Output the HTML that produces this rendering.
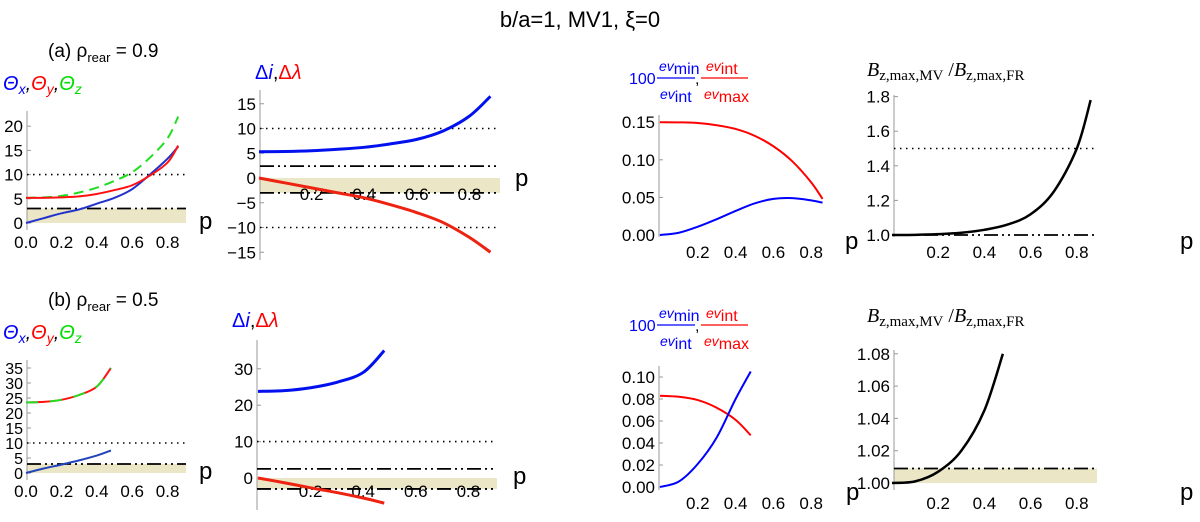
<!DOCTYPE html>
<html><head><meta charset="utf-8"><style>
body{margin:0;background:#fff;}
svg text{font-family:"Liberation Sans",sans-serif;}
</style></head><body>
<svg id="fig" width="1200" height="517" viewBox="0 0 1200 517" xmlns="http://www.w3.org/2000/svg">
<rect width="1200" height="517" fill="#fff"/>
<text x="580" y="27" font-size="22" text-anchor="middle">b/a=1,  MV1,  ξ=0</text>
<text x="48" y="57" font-size="19">(a)  ρ<tspan font-size="13" dy="5">rear</tspan><tspan dy="-5"> = 0.9</tspan></text>
<text x="48" y="306" font-size="19">(b)  ρ<tspan font-size="13" dy="5">rear</tspan><tspan dy="-5"> = 0.5</tspan></text>

<text x="3" y="90" font-size="20" font-style="italic"><tspan fill="#0000ff">Θ<tspan font-size="14" dy="4">x</tspan></tspan><tspan dy="-4" fill="#000">,</tspan><tspan fill="#ff0000">Θ<tspan font-size="14" dy="4">y</tspan></tspan><tspan dy="-4" fill="#000">,</tspan><tspan fill="#00dd00">Θ<tspan font-size="14" dy="4">z</tspan></tspan></text>
<text x="3" y="339" font-size="20" font-style="italic"><tspan fill="#0000ff">Θ<tspan font-size="14" dy="4">x</tspan></tspan><tspan dy="-4" fill="#000">,</tspan><tspan fill="#ff0000">Θ<tspan font-size="14" dy="4">y</tspan></tspan><tspan dy="-4" fill="#000">,</tspan><tspan fill="#00dd00">Θ<tspan font-size="14" dy="4">z</tspan></tspan></text>

<text x="255" y="79" font-size="20"><tspan fill="#0000ff">Δ<tspan font-style="italic">i</tspan></tspan><tspan fill="#000">,</tspan><tspan fill="#ff0000">Δ<tspan font-style="italic">λ</tspan></tspan></text>
<text x="232" y="327" font-size="20"><tspan fill="#0000ff">Δ<tspan font-style="italic">i</tspan></tspan><tspan fill="#000">,</tspan><tspan fill="#ff0000">Δ<tspan font-style="italic">λ</tspan></tspan></text>

<g font-size="16">
<text x="629" y="84" fill="#0000ff" font-size="16">100</text>
<text x="659" y="71" fill="#0000ff"><tspan font-style="italic" font-size="14">ev</tspan><tspan font-size="16" dy="3">min</tspan></text>
<line x1="657" y1="78" x2="695" y2="78" stroke="#0000ff" stroke-width="1.3"/>
<text x="660" y="99" fill="#0000ff"><tspan font-style="italic" font-size="14">ev</tspan><tspan font-size="16" dy="3">int</tspan></text>
<text x="695" y="84" fill="#000">,</text>
<text x="706" y="71" fill="#ff0000"><tspan font-style="italic" font-size="14">ev</tspan><tspan font-size="16" dy="3">int</tspan></text>
<line x1="701" y1="78" x2="748" y2="78" stroke="#ff0000" stroke-width="1.3"/>
<text x="704" y="99" fill="#ff0000"><tspan font-style="italic" font-size="14">ev</tspan><tspan font-size="16" dy="3">max</tspan></text>
</g>
<g font-size="16">
<text x="629" y="331" fill="#0000ff" font-size="16">100</text>
<text x="659" y="318" fill="#0000ff"><tspan font-style="italic" font-size="14">ev</tspan><tspan font-size="16" dy="3">min</tspan></text>
<line x1="657" y1="325" x2="695" y2="325" stroke="#0000ff" stroke-width="1.3"/>
<text x="660" y="346" fill="#0000ff"><tspan font-style="italic" font-size="14">ev</tspan><tspan font-size="16" dy="3">int</tspan></text>
<text x="695" y="331" fill="#000">,</text>
<text x="706" y="318" fill="#ff0000"><tspan font-style="italic" font-size="14">ev</tspan><tspan font-size="16" dy="3">int</tspan></text>
<line x1="701" y1="325" x2="748" y2="325" stroke="#ff0000" stroke-width="1.3"/>
<text x="704" y="346" fill="#ff0000"><tspan font-style="italic" font-size="14">ev</tspan><tspan font-size="16" dy="3">max</tspan></text>
</g>
<text x="867" y="76" font-size="20" style="font-family:'Liberation Serif',serif"><tspan font-style="italic">B</tspan><tspan font-size="15" dy="4">z,max,MV</tspan><tspan dy="-4">  /</tspan><tspan font-style="italic">B</tspan><tspan font-size="15" dy="4">z,max,FR</tspan></text>
<text x="867" y="322" font-size="20" style="font-family:'Liberation Serif',serif"><tspan font-style="italic">B</tspan><tspan font-size="15" dy="4">z,max,MV</tspan><tspan dy="-4">  /</tspan><tspan font-style="italic">B</tspan><tspan font-size="15" dy="4">z,max,FR</tspan></text>
</svg>
<script>
// ---- data ----
const pA = [0,0.1,0.2,0.3,0.4,0.5,0.6,0.7,0.8,0.86];
const thetaXA = [0,1,2,2.8,4,5.2,7,10,13.3,15.8];
const thetaYA = [5.2,5.2,5.3,5.5,6,6.8,7.8,9.8,12.5,16];
const thetaZA = [5.2,5.3,5.6,6.3,7.3,8.7,10.5,13.5,17.5,22];
const pA2 = [0,0.1,0.2,0.3,0.4,0.5,0.6,0.7,0.8,0.88];
const deltaIA = [5.3,5.35,5.5,5.8,6.2,6.9,7.8,9.5,12.5,16.5];
const deltaLA = [0,-1,-2,-3,-4,-5.4,-7,-9,-12,-15];
const evRedA = [0.15,0.1498,0.149,0.146,0.141,0.132,0.118,0.098,0.07,0.048];
const evBlueA = [0,0.003,0.011,0.021,0.032,0.042,0.048,0.049,0.046,0.043];
const bzA = [1.0,1.001,1.005,1.013,1.03,1.06,1.12,1.25,1.5,1.78];
const pB = [0,0.1,0.2,0.3,0.4,0.48];
const thetaXB = [0,1.5,2.8,4.2,5.8,7.5];
const thetaYB = [23.5,23.7,24.4,26,28.8,35];
const deltaIB = [23.8,24,24.8,26.3,29,35];
const deltaLB = [0,-1.3,-2.7,-4,-5.5,-6.9];
const evRedB = [0.083,0.082,0.079,0.072,0.061,0.047];
const evBlueB = [0,0.005,0.021,0.045,0.08,0.105];
const bzB = [1.0,1.001,1.007,1.02,1.045,1.08];
const xTicksFull = [0,0.2,0.4,0.6,0.8];
const xTicksPart = [0.2,0.4,0.6,0.8];

const svg = document.getElementById('fig');
const NS = 'http://www.w3.org/2000/svg';
function mk(tag, attrs, parent){
  const e = document.createElementNS(NS, tag);
  for (const k in attrs) e.setAttribute(k, attrs[k]);
  (parent||svg).appendChild(e);
  return e;
}
function smooth(pts){
  let d = 'M'+pts[0][0]+','+pts[0][1];
  for (let i=0;i<pts.length-1;i++){
    const p0=pts[i-1]||pts[i], p1=pts[i], p2=pts[i+1], p3=pts[i+2]||p2;
    const c1=[p1[0]+(p2[0]-p0[0])/6, p1[1]+(p2[1]-p0[1])/6];
    const c2=[p2[0]-(p3[0]-p1[0])/6, p2[1]-(p3[1]-p1[1])/6];
    d += ' C'+c1[0]+','+c1[1]+' '+c2[0]+','+c2[1]+' '+p2[0]+','+p2[1];
  }
  return d;
}
function panel(cfg){
  const g = mk('g', {});
  
  
  const xs = v => cfg.x0 + v*cfg.kx;
  const ys = v => cfg.y0 - (v-cfg.yb)*cfg.ky;
  if (cfg.shade){
    const r = mk('rect', {x:cfg.axX, y:ys(cfg.shade[1]), width:cfg.xEnd-cfg.axX, height:ys(cfg.shade[0])-ys(cfg.shade[1]), fill:'#ebe6c6'}, g);
    
    
  }
  const ax = mk('line', {x1:cfg.axX, x2:cfg.axX, y1:cfg.axTop, y2:cfg.axBot, stroke:'#999', 'stroke-width':1}, g);
  
  
  cfg.yTicks.forEach(t=>{
    mk('line',{x1:cfg.axX, x2:cfg.axX+4, y1:ys(t), y2:ys(t), stroke:'#999'}, g);
    const tx = mk('text',{x:cfg.axX-4, y:ys(t)+6, 'font-size':cfg.fs||17, 'text-anchor':'end'}, g);
    tx.textContent = (t<0?'−'+Math.abs(t).toFixed(cfg.dec):t.toFixed(cfg.dec));
    
    
  });
  cfg.xTicks.forEach(t=>{
    const tx = mk('text',{x:xs(t), y:cfg.xLabY, 'font-size':17, 'text-anchor':'middle'}, g);
    tx.textContent = t.toFixed(1);
    
    
  });
  (cfg.dotted||[]).forEach(v=>{
    const l = mk('line',{x1:cfg.axX, x2:cfg.xEnd, y1:ys(v), y2:ys(v), stroke:'#000', 'stroke-width':1.6, 'stroke-dasharray':'1.5,4.5'}, g);
    
    
  });
  (cfg.dashdot||[]).forEach(v=>{
    const l = mk('line',{x1:cfg.axX, x2:cfg.xEnd, y1:ys(v), y2:ys(v), stroke:'#000', 'stroke-width':1.8, 'stroke-dasharray':'14,4,2,4,2,4'}, g);
    
    
  });
  cfg.series.forEach(s=>{
    const pts = s.p.map((p,i)=>[xs(p), ys(s.v[i])]);
    const a = {d:smooth(pts), fill:'none', stroke:s.c, 'stroke-width':s.w||2};
    if (s.dash) a['stroke-dasharray']=s.dash;
    const path = mk('path', a, g);
    
    
  });
  (cfg.pLabels||[]).forEach(pl=>{
    const t = mk('text',{x:pl[0], y:pl[1], 'font-size':24}, g);
    t.textContent = 'p';
    
    
  });
}
panel({name:'theta-panel-a', x0:26, kx:177, y0:223, yb:0, ky:4.84, axX:27, axTop:111, axBot:230, xEnd:186,
  yTicks:[0,5,10,15,20], dec:0, xTicks:xTicksFull, xLabY:248, shade:[0,3], dotted:[10], dashdot:[3],
  series:[{n:'theta-z-a',p:pA,v:thetaZA,c:'#22dd22',dash:'10,6'},{n:'theta-x-a',p:pA,v:thetaXA,c:'#2233cc'},{n:'theta-y-a',p:pA,v:thetaYA,c:'#ff1111'}],
  pLabels:[[199,229]]});
panel({name:'delta-panel-a', x0:259, kx:263, y0:178, yb:0, ky:4.95, axX:260, axTop:90, axBot:260, xEnd:500,
  yTicks:[-15,-10,-5,0,5,10,15], dec:0, xTicks:xTicksPart, xLabY:200, shade:[-3,0], dotted:[10,-10], dashdot:[2.4,-3],
  series:[{n:'delta-i-a',p:pA2,v:deltaIA,c:'#0011ee',w:3},{n:'delta-lambda-a',p:pA2,v:deltaLA,c:'#ee2211',w:3}],
  pLabels:[[515,186]]});
panel({name:'ev-panel-a', x0:660, kx:189, y0:235, yb:0, ky:752, axX:659, axTop:115, axBot:237, xEnd:833,
  yTicks:[0,0.05,0.1,0.15], dec:2, xTicks:xTicksPart, xLabY:258,
  series:[{n:'ev-red-a',p:pA,v:evRedA,c:'#ff0000'},{n:'ev-blue-a',p:pA,v:evBlueA,c:'#0000ff'}],
  pLabels:[[845,249]]});
panel({name:'bz-panel-a', x0:892, kx:231, y0:235, yb:1, ky:173, axX:894, axTop:95, axBot:237, xEnd:1097,
  yTicks:[1,1.2,1.4,1.6,1.8], dec:1, xTicks:xTicksPart, xLabY:258, dotted:[1.5], dashdot:[1.0],
  series:[{n:'bz-ratio-a',p:pA,v:bzA,c:'#000',w:2.5}],
  pLabels:[[1180,249]]});
panel({name:'theta-panel-b', x0:26, kx:177, y0:473, yb:0, ky:3.0, axX:27, axTop:360, axBot:480, xEnd:186,
  yTicks:[0,5,10,15,20,25,30,35], dec:0, xTicks:xTicksFull, xLabY:497, shade:[0,3], dotted:[10], dashdot:[3], fs:16,
  series:[{n:'theta-y-b',p:pB,v:thetaYB,c:'#ff1111'},{n:'theta-z-b',p:pB,v:thetaYB,c:'#22dd22',dash:'12,12'},{n:'theta-x-b',p:pB,v:thetaXB,c:'#2244bb'}],
  pLabels:[[199,479]]});
panel({name:'delta-panel-b', x0:258, kx:263, y0:478, yb:0, ky:3.64, axX:257, axTop:340, axBot:510, xEnd:497,
  yTicks:[0,10,20,30], dec:0, xTicks:xTicksPart, xLabY:497, shade:[-3,0], dotted:[10], dashdot:[2.5,-3],
  series:[{n:'delta-i-b',p:pB,v:deltaIB,c:'#0011ee',w:3},{n:'delta-lambda-b',p:pB,v:deltaLB,c:'#ee2211',w:3}],
  pLabels:[[513,484]]});
panel({name:'ev-panel-b', x0:660, kx:189, y0:487, yb:0, ky:1100, axX:659, axTop:366, axBot:490, xEnd:833,
  yTicks:[0,0.02,0.04,0.06,0.08,0.1], dec:2, xTicks:xTicksPart, xLabY:509,
  series:[{n:'ev-red-b',p:pB,v:evRedB,c:'#ff0000'},{n:'ev-blue-b',p:pB,v:evBlueB,c:'#0000ff'}],
  pLabels:[[846,500]]});
panel({name:'bz-panel-b', x0:892, kx:231, y0:483, yb:1, ky:1615, axX:894, axTop:350, axBot:490, xEnd:1097,
  yTicks:[1,1.02,1.04,1.06,1.08], dec:2, xTicks:xTicksPart, xLabY:509, shade:[1,1.009], dashdot:[1.009],
  series:[{n:'bz-ratio-b',p:pB,v:bzB,c:'#000',w:2.5}],
  pLabels:[[1180,500]]});
</script>
</body></html>
